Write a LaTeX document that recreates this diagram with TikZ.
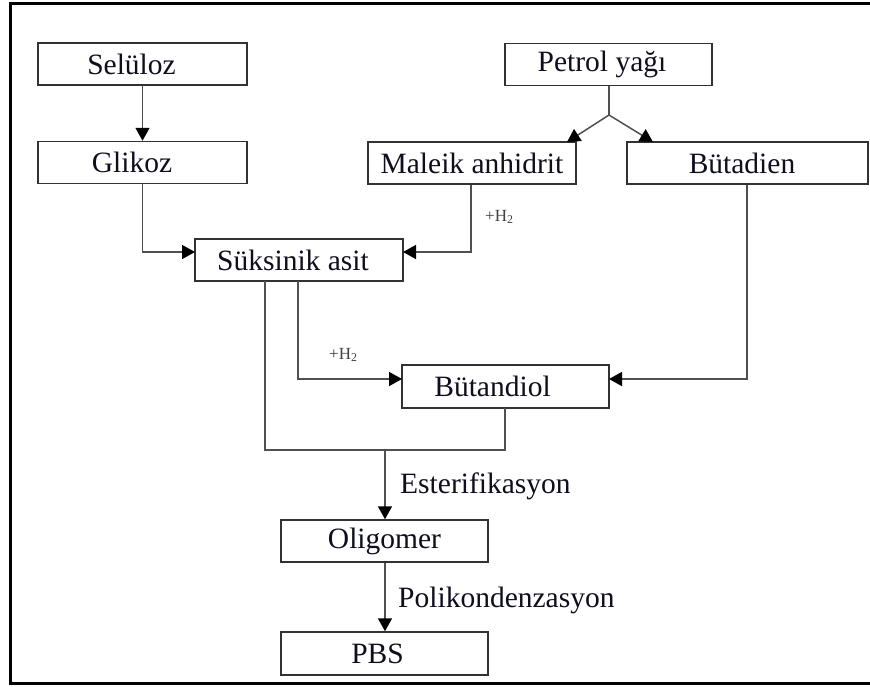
\documentclass[tikz,border=0pt]{standalone}
\usepackage{fontspec}
\setmainfont{Liberation Serif}
\usetikzlibrary{arrows.meta}
\definecolor{txt}{RGB}{14,14,30}
\definecolor{boxc}{RGB}{50,50,50}
\definecolor{linec}{RGB}{80,80,80}
\newcommand{\shiftx}[2]{\hspace*{#1}#2}
\tikzset{
  stepbox/.style={draw=boxc, line width=1.5pt, fill=white, minimum width=207pt, minimum height=42pt, inner sep=0pt,
    font=\fontsize{29.5}{32}\selectfont, text=txt},
  conn/.style={draw=linec, line width=1.5pt},
  arr/.style={conn, -{Triangle[length=13pt,width=14pt]}, arrows={[color=black]}},
  small/.style={font=\fontsize{17}{19}\selectfont, text=black!75, inner sep=0pt},
  lab/.style={font=\fontsize{29.5}{32}\selectfont, text=txt, inner sep=0pt},
}
\begin{document}
\begin{tikzpicture}[x=1pt,y=-1pt]
\useasboundingbox (0,0) rectangle (870,686);
\fill[white] (0,0) rectangle (870,686);
% frame
\draw[line width=3pt, black] (872,3) -- (10,3) -- (10,683) -- (872,683);
% boxes
\node[stepbox, minimum width=209pt] (sel) at (142.5,64) {\shiftx{-22pt}{Selüloz}};
\node[stepbox, minimum width=209pt] (gli) at (142.5,162.5) {\shiftx{-21pt}{Glikoz}};
\node[stepbox] (pet) at (608.5,64.5) {\shiftx{-13pt}{Petrol yağı}};
\node[stepbox, minimum width=208pt] (mal) at (472,163) {Maleik anhidrit};
\node[stepbox, minimum width=241pt] (but) at (747.5,163) {\shiftx{-11pt}{Bütadien}};
\node[stepbox, minimum width=208pt] (suk) at (299,260) {\shiftx{-12pt}{Süksinik asit}};
\node[stepbox, minimum height=43pt] (bdo) at (505.5,386.5) {\shiftx{-26pt}{Bütandiol}};
\node[stepbox] (oli) at (384.5,541) {Oligomer};
\node[stepbox, minimum height=43pt] (pbs) at (384.5,653.5) {\shiftx{-14pt}{PBS}};
% coordinates
\coordinate (split) at (609,115);
\coordinate (sukin) at (195,252);
\coordinate (sukinr) at (403,252);
\coordinate (bdoin) at (402,379);
\coordinate (bdoinr) at (609,379);
\coordinate (suka) at (265,281);
\coordinate (sukb) at (298,281);
\coordinate (merge) at (385,450);
\coordinate (bdob) at (505,408);
% connectors
\draw[arr] (sel.south) -- (gli.north);
\draw[arr] (gli.south) |- (sukin);
\draw[arr] (mal.south -| 471,0) |- (sukinr);
\draw[conn] (pet.south -| split) -- (split);
\draw[arr] (split) -- (567,142);
\draw[arr] (split) -- (653,142);
\draw[arr] (sukb) |- (bdoin);
\draw[arr] (but.south -| 747,0) |- (bdoinr);
\draw[conn] (suka) |- (merge) -| (bdob);
\draw[arr] (merge) -- (oli.north -| merge);
\draw[arr] (oli.south -| merge) -- (pbs.north -| merge);
% labels
\node[small, anchor=west] (h2a) at (485,217) {+H\textsubscript{2}};
\node[small, anchor=west] (h2b) at (329,355) {+H\textsubscript{2}};
\node[lab, anchor=base west] (est) at (400,493) {Esterifikasyon};
\node[lab, anchor=base west] (pol) at (398,607) {Polikondenzasyon};
\end{tikzpicture}
\end{document}
